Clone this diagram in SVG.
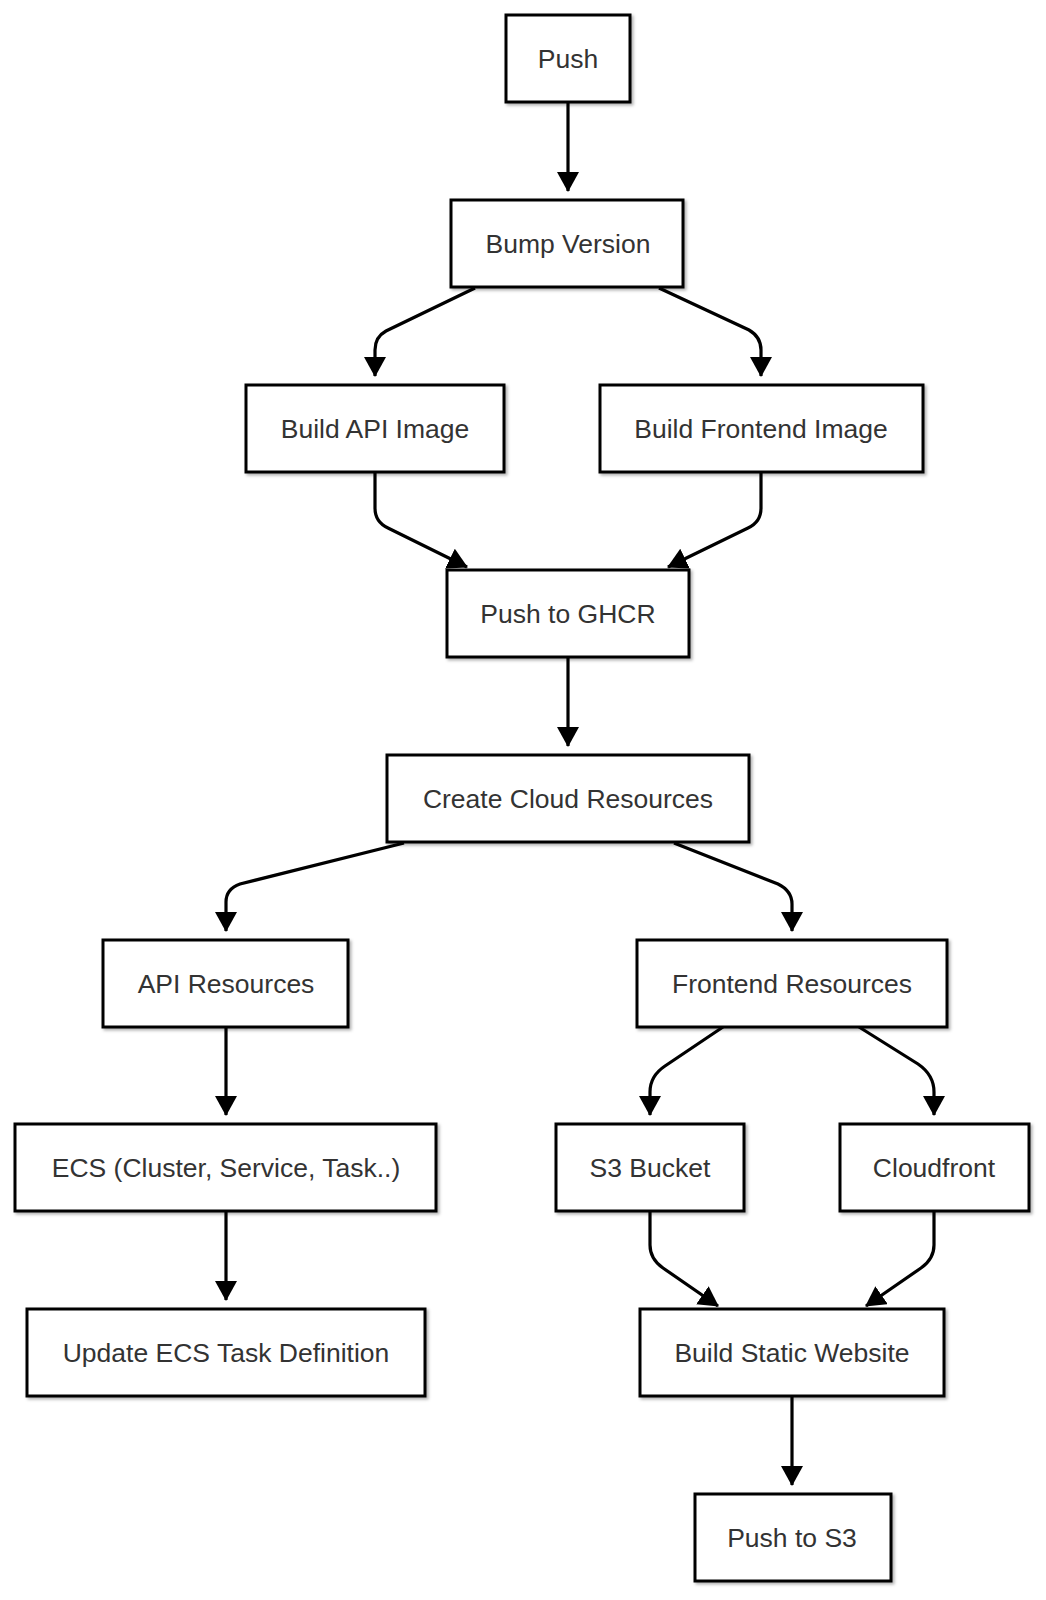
<svg xmlns="http://www.w3.org/2000/svg" width="1046" height="1600" viewBox="0 0 1046 1600">
<style>
.box{fill:#fff;stroke:#000;stroke-width:3;filter:url(#sh)}
.lbl{font-family:"Liberation Sans",Arial,sans-serif;font-size:26.5px;fill:#333;text-anchor:middle}
.edge{fill:none;stroke:#000;stroke-width:3.2;marker-end:url(#arr)}
</style>
<defs>
<filter id="sh" x="-10%" y="-10%" width="125%" height="130%">
<feDropShadow dx="2" dy="2" stdDeviation="1.5" flood-color="#000" flood-opacity="0.3"/>
</filter>
<marker id="arr" viewBox="0 0 20 22" refX="19" refY="11" markerWidth="20" markerHeight="22" markerUnits="userSpaceOnUse" orient="auto">
<path d="M0,0 L20,11 L0,22 z" fill="#000"/>
</marker>
</defs>
<g id="connectors">
<path class="edge" d="M568,102 L568,191"/>
<path class="edge" d="M475,288 L386,331 Q375,337 375,350 L375,376"/>
<path class="edge" d="M659,288 L749,330 Q761,337 761,350 L761,376"/>
<path class="edge" d="M375,472 L375,508 Q375,522 388,528 L467,567"/>
<path class="edge" d="M761,472 L761,508 Q761,522 748,528 L668,567"/>
<path class="edge" d="M568,657 L568,746"/>
<path class="edge" d="M404,843 L240,884 Q226,889 226,902 L226,931"/>
<path class="edge" d="M674,843 L778,884 Q792,891 792,904 L792,931"/>
<path class="edge" d="M226,1027 L226,1115"/>
<path class="edge" d="M723,1027 L665,1066 Q650,1076 650,1092 L650,1115"/>
<path class="edge" d="M859,1027 L918,1064 Q934,1075 934,1092 L934,1115"/>
<path class="edge" d="M226,1211 L226,1300"/>
<path class="edge" d="M650,1211 L650,1245 Q650,1259 663,1268 L718,1306"/>
<path class="edge" d="M934,1211 L934,1245 Q934,1259 921,1268 L866,1306"/>
<path class="edge" d="M792,1396 L792,1485"/>
</g>
<g id="push"><rect class="box" x="506" y="15" width="124" height="87"/><text class="lbl" x="568" y="68">Push</text></g>
<g id="bump"><rect class="box" x="451" y="200" width="232" height="87"/><text class="lbl" x="568" y="253">Bump Version</text></g>
<g id="buildApi"><rect class="box" x="246" y="385" width="258" height="87"/><text class="lbl" x="375" y="438">Build API Image</text></g>
<g id="buildFrontend"><rect class="box" x="600" y="385" width="323" height="87"/><text class="lbl" x="761" y="438">Build Frontend Image</text></g>
<g id="ghcr"><rect class="box" x="447" y="570" width="242" height="87"/><text class="lbl" x="568" y="623">Push to GHCR</text></g>
<g id="cloud"><rect class="box" x="387" y="755" width="362" height="87"/><text class="lbl" x="568" y="808">Create Cloud Resources</text></g>
<g id="apiRes"><rect class="box" x="103" y="940" width="245" height="87"/><text class="lbl" x="226" y="993">API Resources</text></g>
<g id="feRes"><rect class="box" x="637" y="940" width="310" height="87"/><text class="lbl" x="792" y="993">Frontend Resources</text></g>
<g id="ecs"><rect class="box" x="15" y="1124" width="421" height="87"/><text class="lbl" x="226" y="1177">ECS (Cluster, Service, Task..)</text></g>
<g id="s3"><rect class="box" x="556" y="1124" width="188" height="87"/><text class="lbl" x="650" y="1177">S3 Bucket</text></g>
<g id="cf"><rect class="box" x="840" y="1124" width="189" height="87"/><text class="lbl" x="934" y="1177">Cloudfront</text></g>
<g id="updateEcs"><rect class="box" x="27" y="1309" width="398" height="87"/><text class="lbl" x="226" y="1362">Update ECS Task Definition</text></g>
<g id="buildStatic"><rect class="box" x="640" y="1309" width="304" height="87"/><text class="lbl" x="792" y="1362">Build Static Website</text></g>
<g id="pushS3"><rect class="box" x="695" y="1494" width="196" height="87"/><text class="lbl" x="792" y="1547">Push to S3</text></g>
</svg>
